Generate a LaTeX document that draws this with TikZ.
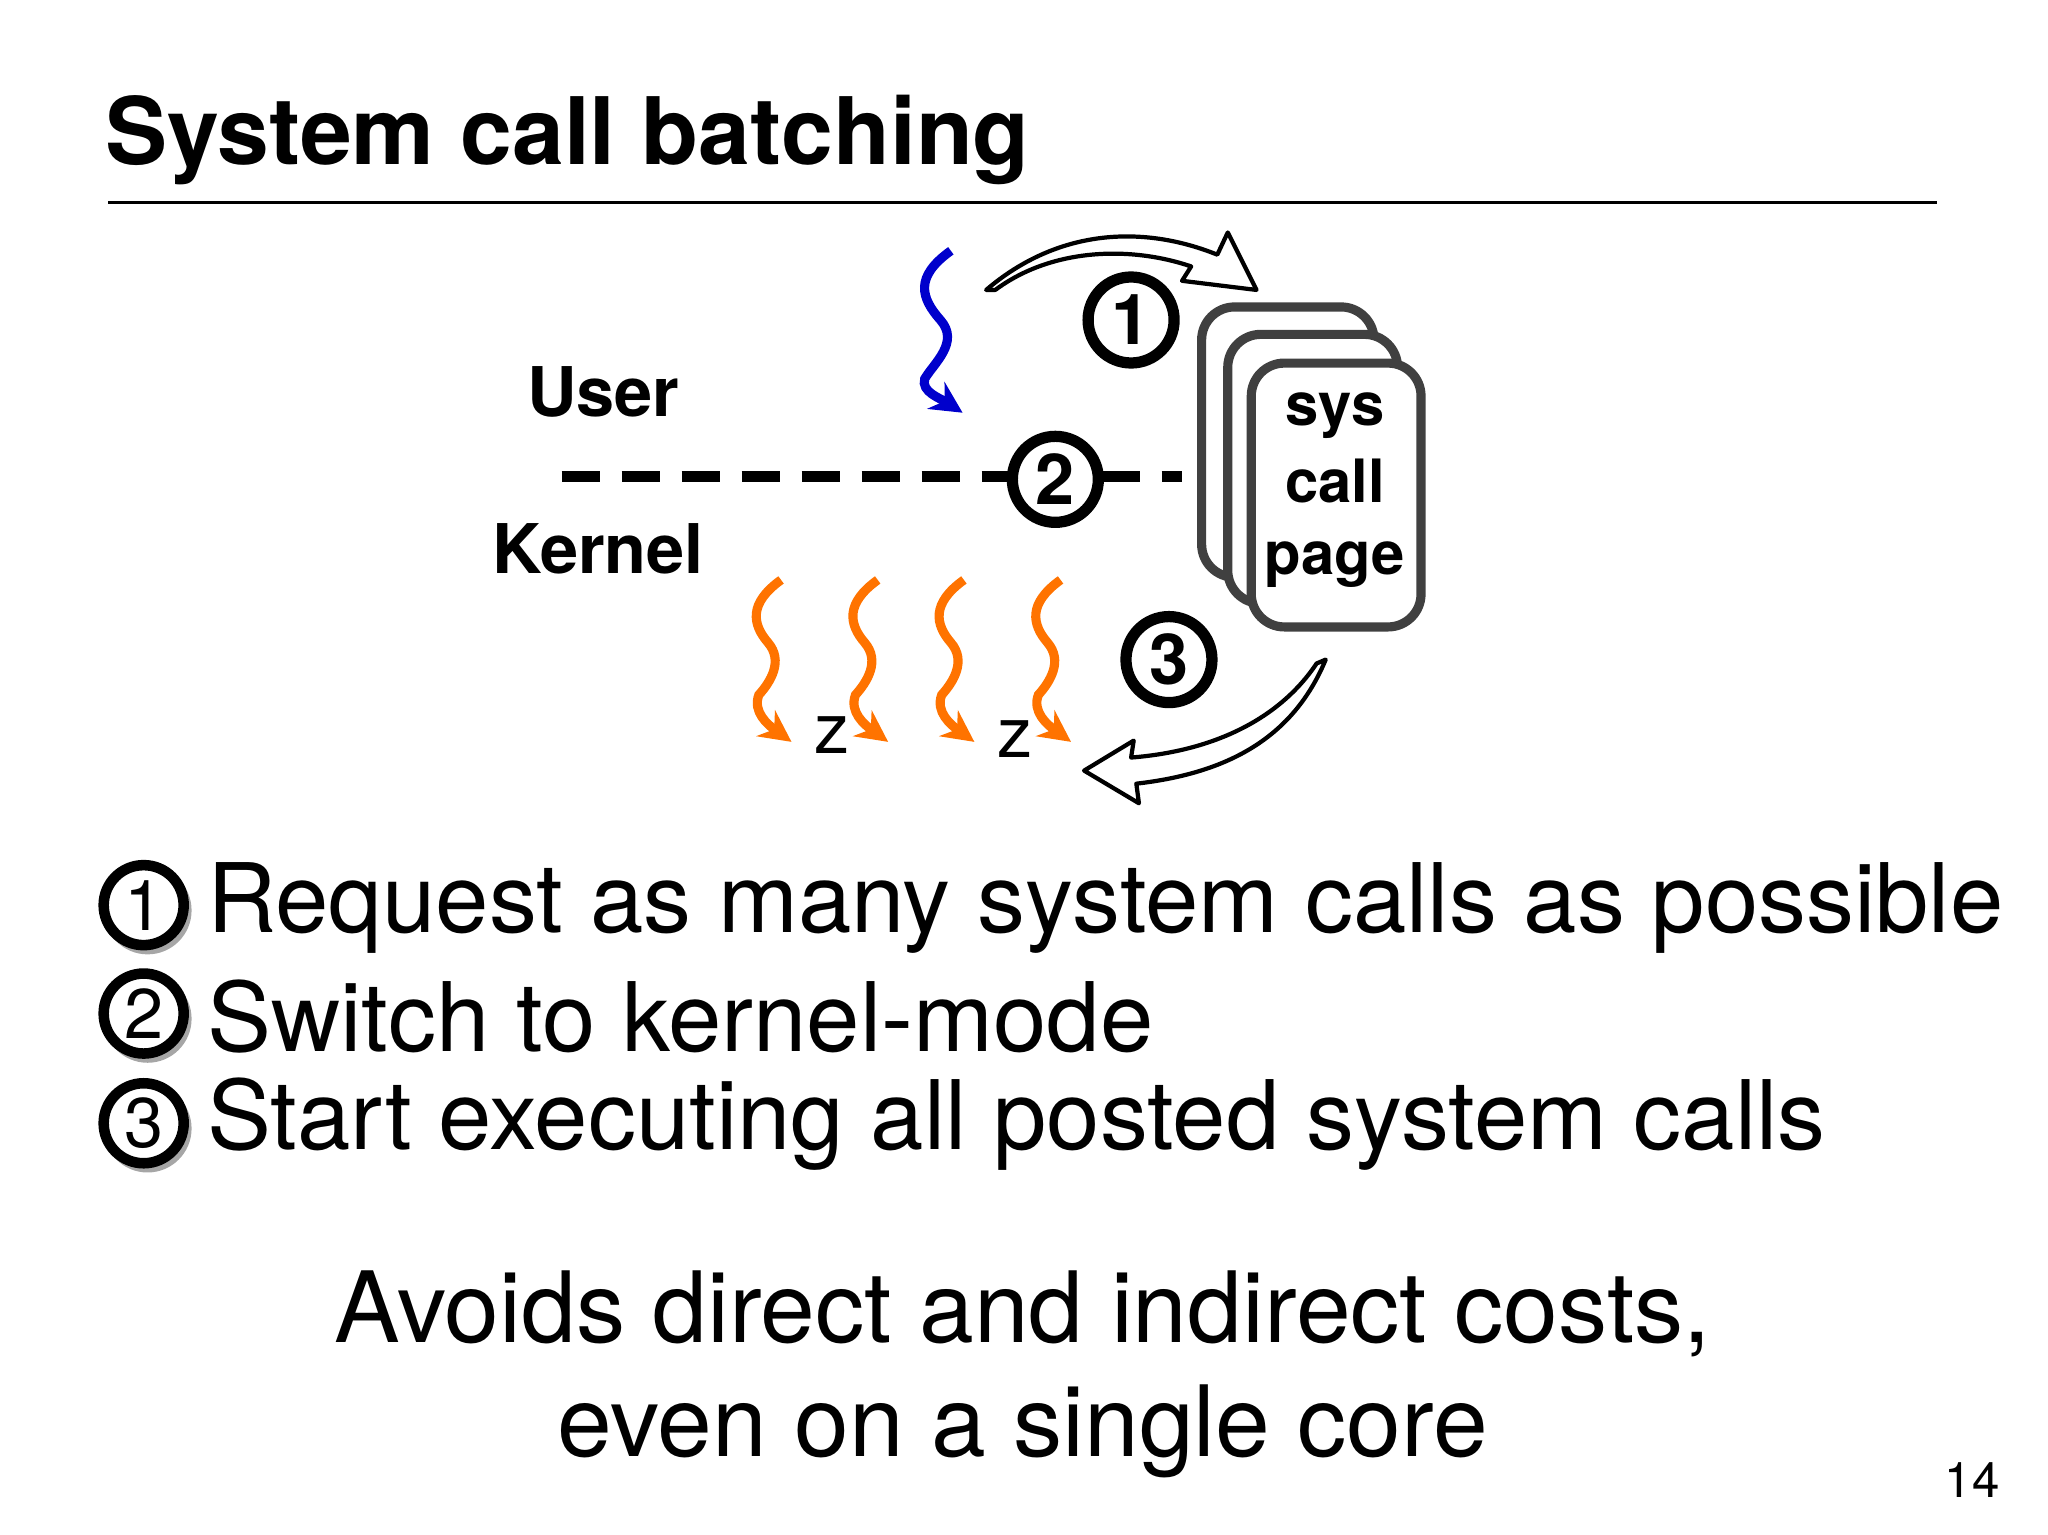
\documentclass[tikz,border=0pt]{standalone}
\usepackage{fontspec}
\setmainfont{TeX Gyre Heros}
\usetikzlibrary{arrows.meta}
\begin{document}
\begin{tikzpicture}[x=0.01306cm,y=-0.01306cm,
  num/.style={circle,draw=black,line width=3.2pt,fill=white,minimum size=0.86cm,inner sep=0pt,font=\fontsize{20}{22}\selectfont\bfseries},
  bnum/.style={circle,draw=black,line width=3pt,fill=white,minimum size=0.8cm,inner sep=0pt,font=\fontsize{20}{22}\selectfont},
  card/.style={draw=black!75,line width=2.6pt,fill=white,rounded corners=0.33cm},
  cardtxt/.style={font=\fontsize{17}{22}\selectfont\bfseries,anchor=base},
  hollow/.style={draw=black,line width=1.2pt,fill=white,line join=round},
  squig/.style={line width=2.6pt,-{Stealth[length=9pt,width=9pt]}},
  big/.style={font=\fontsize{27.3}{32}\selectfont,anchor=west,inner sep=0pt}]
\useasboundingbox (0,0) rectangle (1568,1175);
\node[anchor=west,inner sep=0pt,font=\fontsize{26.5}{32}\selectfont\bfseries] (title) at (80,107) {System call batching};
\coordinate (la) at (83,155); \coordinate (lb) at (1483,155);
\draw[line width=1pt] (la) -- (lb);
% blue squiggle
\draw[squig,blue!80!black] (728,192) .. controls (700,212) and (705,228) .. (720,245) .. controls (735,262) and (715,278) .. (708,290) .. controls (705,300) and (720,305) .. (737,316);
% orange squiggles
\foreach \x in {598,672,738,812}{
\draw[squig,orange!90!red] (\x,444) .. controls (\x-25,462) and (\x-22,478) .. (\x-10,492) .. controls (\x+2,506) and (\x-8,522) .. (\x-17,532) .. controls (\x-22,545) and (\x-10,555) .. (\x+8,568);}
\node[font=\fontsize{20}{22}\selectfont] (z1) at (637,563) {z};
\node[font=\fontsize{20}{22}\selectfont] (z2) at (777,566) {z};
\node[font=\fontsize{19.5}{24}\selectfont\bfseries] (user) at (462,300) {User};
\node[font=\fontsize{19.5}{24}\selectfont\bfseries] (kernel) at (458,420) {Kernel};
\coordinate (da) at (430,365); \coordinate (db) at (905,365);
\draw[line width=3pt,dash pattern=on 0.38cm off 0.22cm] (da) -- (db);
% cards
\draw[card] (920,235) rectangle (1052,442);
\draw[card] (940,256) rectangle (1070,462);
\draw[card] (958,278) rectangle (1088,480);
\node[cardtxt] (s1) at (1022,326) {sys};
\node[cardtxt] (s2) at (1022,385) {call};
\node[cardtxt] (s3) at (1022,440) {page};
% hollow arrows
\draw[hollow] (755,222) .. controls (810,175) and (875,172) .. (932,195) -- (940,178) -- (962,222) -- (905,215) -- (912,204) .. controls (865,188) and (805,190) .. (762,222) -- cycle;
\draw[hollow] (1015,505) .. controls (990,565) and (940,592) .. (870,600) -- (872,615) -- (830,590) -- (868,567) -- (866,580) .. controls (930,575) and (980,550) .. (1008,508) -- cycle;
\node[num] (n1) at (866,245) {1};
\node[num] (n2) at (808,367) {2};
\node[num] (n3) at (895,505) {3};
% bullets
\foreach \i/\y in {1/693,2/776,3/860}{
\fill[black!35] (113,\y+4) circle (0.44cm);
\node[bnum] (b\i) at (110,\y) {\i};}
\node[big] (t1) at (158,695) {Request as many system calls as possible};
\node[big] (t2) at (158,778) {Switch to kernel-mode};
\node[big] (t3) at (158,861) {Start executing all posted system calls};
\node[font=\fontsize{28}{32.5}\selectfont,align=center] (bot) at (783,1052) {Avoids direct and indirect costs,\\even on a single core};
\node[font=\fontsize{14}{16}\selectfont] (pg) at (1510,1133) {14};
\end{tikzpicture}
\end{document}
